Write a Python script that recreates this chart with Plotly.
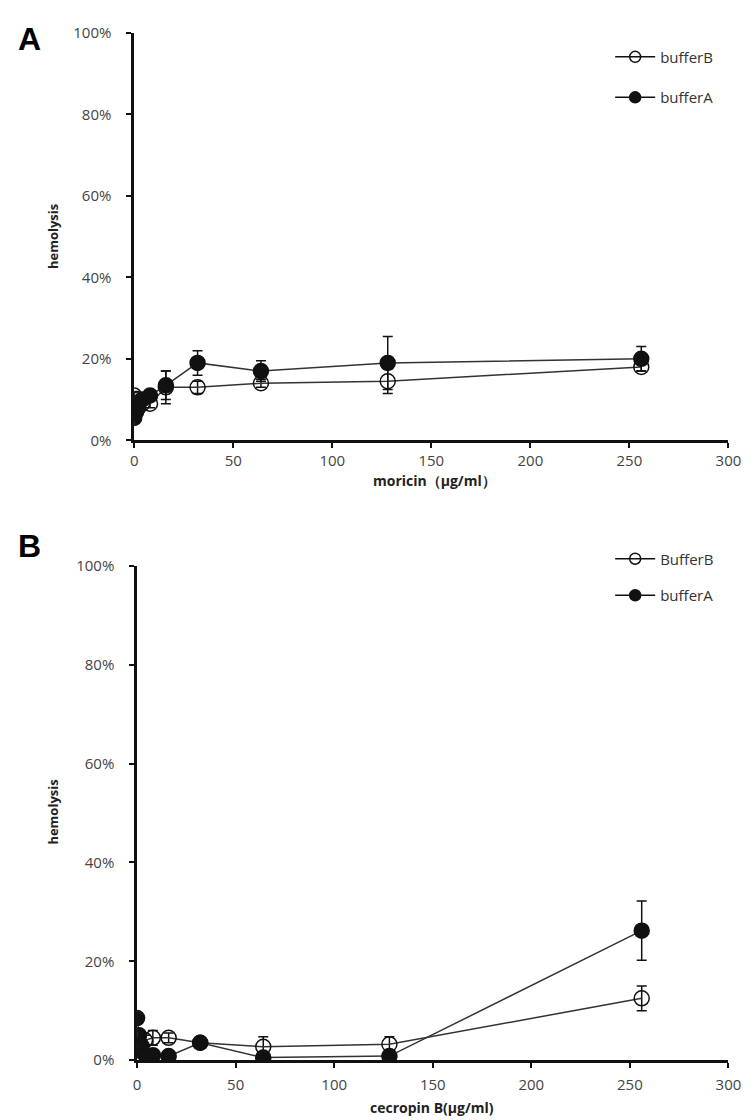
import plotly.graph_objects as go

W, H = 752, 1120

# ---- Data ----
conc = [0, 1, 2, 4, 8, 16, 32, 64, 128, 256]

# Panel A: moricin
a_bufB = [0.11, 0.09, 0.10, 0.09, 0.09, 0.13, 0.13, 0.14, 0.145, 0.18]
a_bufB_err = [0.01, 0.01, 0.01, 0.01, 0.01, 0.04, 0.015, 0.01, 0.03, 0.01]
a_bufA = [0.055, 0.07, 0.08, 0.10, 0.11, 0.135, 0.19, 0.17, 0.19, 0.20]
a_bufA_err = [0.01, 0.01, 0.01, 0.01, 0.01, 0.035, 0.03, 0.025, 0.065, 0.03]

# Panel B: cecropin B
b_bufB = [0.01, 0.02, 0.03, 0.04, 0.045, 0.045, 0.035, 0.027, 0.032, 0.125]
b_bufB_err = [0.005, 0.01, 0.01, 0.01, 0.015, 0.01, 0.005, 0.02, 0.015, 0.025]
b_bufA = [0.085, 0.05, 0.03, 0.012, 0.01, 0.008, 0.035, 0.005, 0.008, 0.262]
b_bufA_err = [0.01, 0.01, 0.01, 0.005, 0.005, 0.005, 0.005, 0.005, 0.005, 0.06]

x_ticks = [0, 50, 100, 150, 200, 250, 300]
y_ticks = [0, 0.2, 0.4, 0.6, 0.8, 1.0]

A_title_x = "moricin（μg/ml）"
B_title_x = "cecropin B(μg/ml)"
y_title = "hemolysis"
A_legend = ["bufferB", "bufferA"]
B_legend = ["BufferB", "bufferA"]

# ---- Layout geometry (pixels) ----
A_box = dict(x0=125, x1=733, y0=14, y1=429)
B_box = dict(x0=128, x1=733, y0=557, y1=1060)

def dom_x(b):
    return [b["x0"] / W, b["x1"] / W]

def dom_y(b):
    return [1 - b["y1"] / H, 1 - b["y0"] / H]

fig = go.Figure()
INK = "#111111"

def add_series(xa, ya, y, err, filled, name, legend):
    fig.add_trace(go.Scatter(
        x=conc, y=y, xaxis=xa, yaxis=ya, mode="lines+markers",
        line=dict(color="#333333", width=1.5),
        marker=dict(symbol="circle" if filled else "circle-open",
                    size=15, color=INK, line=dict(color=INK, width=1.5)),
        error_y=dict(type="data", array=err, visible=True,
                     color=INK, thickness=1.5, width=5),
        showlegend=False, hoverinfo="skip"))
    fig.add_trace(go.Scatter(
        x=[None], y=[None], xaxis=xa, yaxis=ya, mode="lines+markers",
        name=name, legend=legend, legendgroup=name + legend,
        line=dict(color=INK, width=1.5),
        marker=dict(symbol="circle" if filled else "circle-open",
                    size=11, color=INK, line=dict(color=INK, width=1.5))))

add_series("x", "y", a_bufB, a_bufB_err, False, A_legend[0], "legend")
add_series("x", "y", a_bufA, a_bufA_err, True, A_legend[1], "legend")
add_series("x2", "y2", b_bufB, b_bufB_err, False, B_legend[0], "legend2")
add_series("x2", "y2", b_bufA, b_bufA_err, True, B_legend[1], "legend2")

tickfont = dict(family="Open Sans, Noto Sans, sans-serif", size=15, color="#444444")
ax_common = dict(showgrid=False, zeroline=False, showline=True,
                 linecolor=INK, linewidth=2.5, ticks="outside",
                 ticklen=5, tickwidth=2, tickcolor=INK, tickfont=tickfont)

fig.update_layout(
    width=W, height=H, margin=dict(l=0, r=0, t=0, b=0),
    plot_bgcolor="white", paper_bgcolor="white", showlegend=True,
    xaxis=dict(domain=dom_x(A_box), anchor="y", range=[0, 300],
               tickvals=x_ticks, **ax_common),
    yaxis=dict(domain=dom_y(A_box), anchor="x", range=[0, 1.0],
               tickvals=y_ticks, tickformat=".0%", ticklabelstandoff=12, **ax_common),
    xaxis2=dict(domain=dom_x(B_box), anchor="y2", range=[0, 300],
                tickvals=x_ticks, ticklabelstandoff=4, **ax_common),
    yaxis2=dict(domain=dom_y(B_box), anchor="x2", range=[0, 1.0],
                tickvals=y_ticks, tickformat=".0%", ticklabelstandoff=12, **ax_common),
    legend=dict(x=612 / W, y=1 - 22 / H, xanchor="left", yanchor="top",
                font=dict(family="Open Sans, Noto Sans, sans-serif", size=15, color="#333333"),
                bgcolor="rgba(0,0,0,0)", tracegroupgap=18, itemwidth=40),
    legend2=dict(x=612 / W, y=1 - 533 / H, xanchor="left", yanchor="top",
                 font=dict(family="Open Sans, Noto Sans, sans-serif", size=15, color="#333333"),
                 bgcolor="rgba(0,0,0,0)", tracegroupgap=14, itemwidth=40),
)

ann = []
def txt(x, y, s, size, bold=False, angle=0, color="#222222", family="Open Sans, Noto Sans, sans-serif"):
    ann.append(dict(x=x / W, y=1 - y / H, xref="paper", yref="paper",
                    text=f"<b>{s}</b>" if bold else s, showarrow=False,
                    textangle=angle, xanchor="center", yanchor="middle",
                    font=dict(size=size, color=color, family=family)))

txt(18, 20, "A", 32, bold=True, color="black", family="Liberation Sans, Arial")
txt(18, 537, "B", 32, bold=True, color="black", family="Liberation Sans, Arial")
txt(42, 222, y_title, 13, bold=True, angle=-90)
txt(42, 808, y_title, 13, bold=True, angle=-90)
txt(432, 470, A_title_x, 14, bold=True)
txt(430, 1108, B_title_x, 14, bold=True)
fig.update_layout(annotations=ann)

fig.write_html("out.html")
